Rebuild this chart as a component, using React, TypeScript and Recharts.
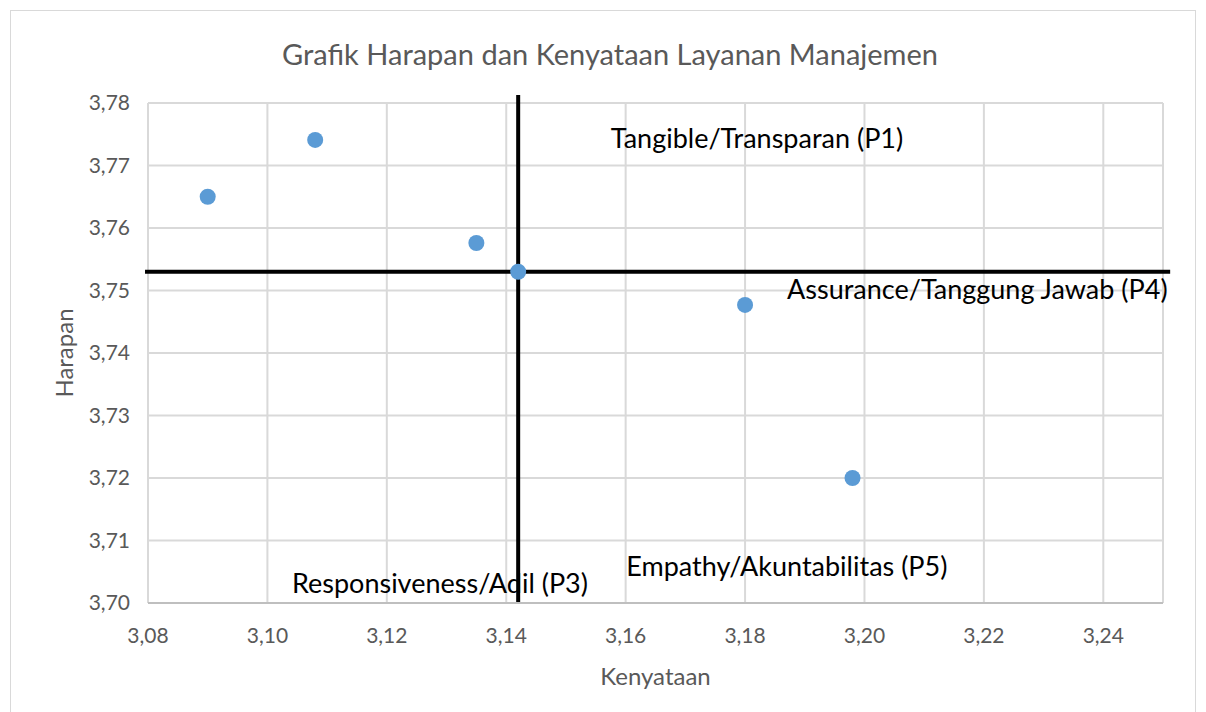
import React from 'react';
import { ScatterChart, Scatter, XAxis, YAxis, CartesianGrid, ReferenceLine, ReferenceDot } from 'recharts';

// Kenyataan (x) vs Harapan (y) per layanan
const kenyataan = [3.09, 3.108, 3.135, 3.142, 3.18, 3.198];
const harapan = [3.765, 3.7741, 3.7576, 3.753, 3.7477, 3.72];

const xTicks = [3.08, 3.1, 3.12, 3.14, 3.16, 3.18, 3.2, 3.22, 3.24];
const yTicks = [3.7, 3.71, 3.72, 3.73, 3.74, 3.75, 3.76, 3.77, 3.78];

// garis rata-rata (kuadran)
const meanX = 3.142;
const meanY = 3.753;

// label kuadran
const quadrantText = ['Tangible/Transparan (P1)', 'Assurance/Tanggung Jawab (P4)', 'Responsiveness/Adil (P3)', 'Empathy/Akuntabilitas (P5)'];
const quadrantX = [3.182, 3.2189, 3.1289, 3.187];
const quadrantY = [3.7744, 3.7501, 3.7032, 3.7058];

const FONT = 'Lato, "Open Sans", sans-serif';
const GRID = '#d9d9d9';
const TEXT = '#595959';

const fmt = (v: number) => v.toFixed(2).replace('.', ',');

const Dot = (props: any) => <circle cx={props.cx} cy={props.cy} r={8} fill="#5b9bd5" />;

const App = () => {
  const data = kenyataan.map((x, i) => ({ x, y: harapan[i] }));

  return (
    <div style={{ position: 'relative', width: 1190, height: 704, overflow: 'hidden', fontFamily: FONT, background: '#fff' }}>
      <div style={{ position: 'absolute', left: 2, top: 2, width: 1184, height: 760, border: '1px solid ' + GRID }} />
      <div style={{ position: 'absolute', left: 0, top: 28, width: 1204, textAlign: 'center', fontSize: 29, color: TEXT }}>
        Grafik Harapan dan Kenyataan Layanan Manajemen
      </div>
      <div style={{ position: 'absolute', left: 0, top: 0 }}>
        <ScatterChart width={1190} height={704} margin={{ top: 95, right: 35, bottom: 0, left: 0 }}>
          <CartesianGrid stroke={GRID} strokeWidth={2} />
          <XAxis
            type="number"
            dataKey="x"
            domain={[3.08, 3.25]}
            ticks={xTicks}
            tickFormatter={fmt}
            height={109}
            tickLine={false}
            axisLine={{ stroke: '#bfbfbf', strokeWidth: 2 }}
            tickMargin={19}
            tick={{ fill: TEXT, fontSize: 21, fontFamily: FONT }}
            label={{ value: 'Kenyataan', position: 'insideBottom', offset: 27, fill: TEXT, fontSize: 24, fontFamily: FONT }}
          />
          <YAxis
            type="number"
            dataKey="y"
            domain={[3.7, 3.78]}
            ticks={yTicks}
            tickFormatter={fmt}
            width={140}
            tickLine={false}
            axisLine={false}
            tickMargin={12}
            tick={{ fill: TEXT, fontSize: 21, fontFamily: FONT }}
            label={{ value: 'Harapan', angle: -90, position: 'insideLeft', offset: 56, fill: TEXT, fontSize: 24, fontFamily: FONT, style: { textAnchor: 'middle' } }}
          />
          <ReferenceLine x={3.25} stroke={GRID} strokeWidth={2} />
          <Scatter data={data} shape={Dot} isAnimationActive={false} />
          <ReferenceLine
            segment={[{ x: 3.0795, y: meanY }, { x: 3.2512, y: meanY }]}
            stroke="#000"
            strokeWidth={4}
            ifOverflow="visible"
          />
          <ReferenceLine
            segment={[{ x: meanX, y: 3.7813 }, { x: meanX, y: 3.7 }]}
            stroke="#000"
            strokeWidth={4}
            ifOverflow="visible"
          />
          {quadrantText.map((t, i) => (
            <ReferenceDot
              key={t}
              x={quadrantX[i]}
              y={quadrantY[i]}
              r={0}
              fill="none"
              stroke="none"
              label={{ value: t, position: 'center', fill: '#000', fontSize: 27, fontFamily: FONT }}
            />
          ))}
        </ScatterChart>
      </div>
    </div>
  );
};

export default App;
